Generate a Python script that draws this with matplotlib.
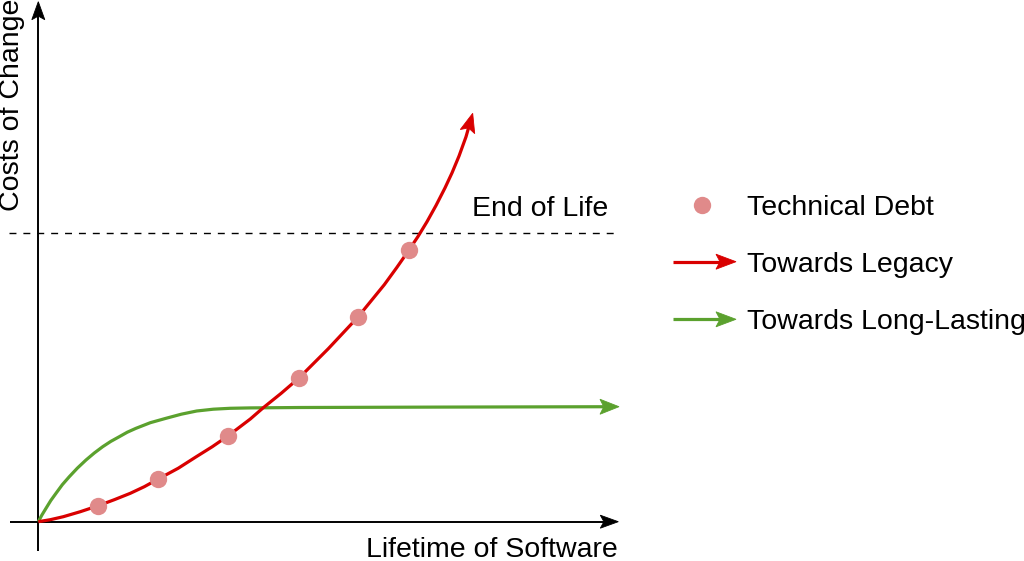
import matplotlib
matplotlib.use("Agg")
import matplotlib.pyplot as plt
from matplotlib.patches import Polygon
import numpy as np

plt.rcParams['font.family'] = ['Liberation Sans', 'DejaVu Sans']

# ---- data (x = lifetime, y = cost, origin at axes cross) ----
legacy_x = [0, 12, 25, 42, 60, 76, 92, 106, 120, 140, 158, 174, 190, 212, 225, 243, 261,
            290, 319.4, 346, 358.5, 370.7, 379.7, 388.7, 397.7, 406.7, 413.7, 420.7,
            427.7, 434.4]
legacy_y = [0, 2, 5, 10, 16, 22, 28.4, 35, 42.7, 53.5, 65, 75, 86, 102.7, 114, 128.5, 144,
            173, 204.4, 237, 254.2, 271.7, 285.2, 300, 316.2, 333.8, 348.8, 365.6,
            384.9, 408.4]
debt_x = [60, 120, 190, 261, 319.4, 370.7]
debt_y = [16, 42.7, 86, 144, 204.4, 271.7]
lasting_x = [0, 3.5, 7.7, 12.5, 17.7, 24, 31, 39, 47.7, 56, 64.4, 72.5, 81, 89, 97.7,
             112, 127.7, 143, 158.4, 175, 191.7, 212, 262, 400, 580.7]
lasting_y = [0, 6.5, 13.4, 21.2, 28.4, 37, 45, 53.5, 61.7, 68.7, 75, 80.3, 85, 89.5, 93.4,
             99, 103.4, 107.5, 110.7, 112.5, 113.4, 113.8, 114.2, 114.6, 115]
end_of_life = 288.5
x_axis_range = (-28, 580)
y_axis_range = (-29, 520)

labels = ["Technical Debt", "Towards Legacy", "Towards Long-Lasting"]

RED = '#d90000'
GREEN = '#5ba12e'
DOT = '#e08a8a'
FS = 20.5

fig = plt.figure(figsize=(10.24, 5.61), dpi=100)
ax = fig.add_axes([0, 0, 1, 1])
# 1 data unit == 1 pixel in both directions
ax.set_xlim(-38.3, 1024 - 38.3)
ax.set_ylim(-(561 - 521.7), 521.7)
ax.axis('off')


def arrow_line(ax, xs, ys, color, lw, L=19.0, W=14.0, notch_f=0.8, z=3):
    """Line through the points with a draw.io-style (notched) arrowhead at the end."""
    xs = np.asarray(xs, float)
    ys = np.asarray(ys, float)
    tip = np.array([xs[-1], ys[-1]])
    prev = np.array([xs[-2], ys[-2]])
    u = tip - prev
    u /= np.hypot(*u)
    n = np.array([-u[1], u[0]])
    notch = tip - notch_f * L * u
    lx = np.append(xs[:-1], notch[0])
    ly = np.append(ys[:-1], notch[1])
    ax.plot(lx, ly, color=color, lw=lw, solid_capstyle='butt',
            solid_joinstyle='round', zorder=z)
    head = [tip, tip - L * u + W / 2 * n, notch, tip - L * u - W / 2 * n]
    ax.add_patch(Polygon(head, closed=True, facecolor=color, edgecolor=color,
                         lw=0.6, joinstyle='miter', zorder=z + 0.1))


# axes
arrow_line(ax, [x_axis_range[0], x_axis_range[1]], [0, 0], 'black', 1.4, L=18, W=13, z=2)
arrow_line(ax, [0, 0], [y_axis_range[0], y_axis_range[1]], 'black', 1.4, L=18, W=13, z=2)

# end of life
ax.plot([-29, 577], [end_of_life, end_of_life], color='black', lw=1.0,
        linestyle=(0, (5, 5)), zorder=2)
ax.text(433.7, 305.7, "End of Life", fontsize=FS, ha='left', va='baseline')

# curves
arrow_line(ax, lasting_x, lasting_y, GREEN, 2.3, L=19, W=15, z=3)
arrow_line(ax, legacy_x, legacy_y, RED, 2.3, L=19, W=15, z=3.5)
ax.plot(debt_x, debt_y, 'o', color=DOT, markersize=12.5, markeredgewidth=0, zorder=5)

# axis labels
ax.text(579.7, -35, "Lifetime of Software", fontsize=FS, ha='right', va='baseline')
ax.text(-26, 416.7, "Costs of Change", fontsize=FS, rotation=90, ha='center', va='center')

# legend
lx_marker = 663.4
lx_text = 708.7
ly = [521.7 - 205, 521.7 - 261.7, 521.7 - 319.3]
ax.plot([lx_marker], [ly[0]], 'o', color=DOT, markersize=12.5, markeredgewidth=0)
arrow_line(ax, [634.7, 697.7], [ly[1], ly[1]], RED, 2.3, L=20, W=15)
arrow_line(ax, [634.7, 697.7], [ly[2], ly[2]], GREEN, 2.3, L=20, W=15)
for lab, yy in zip(labels, ly):
    ax.text(lx_text, yy - 10, lab, fontsize=FS, ha='left', va='baseline')

fig.savefig('out.png', dpi=100, facecolor='white')
